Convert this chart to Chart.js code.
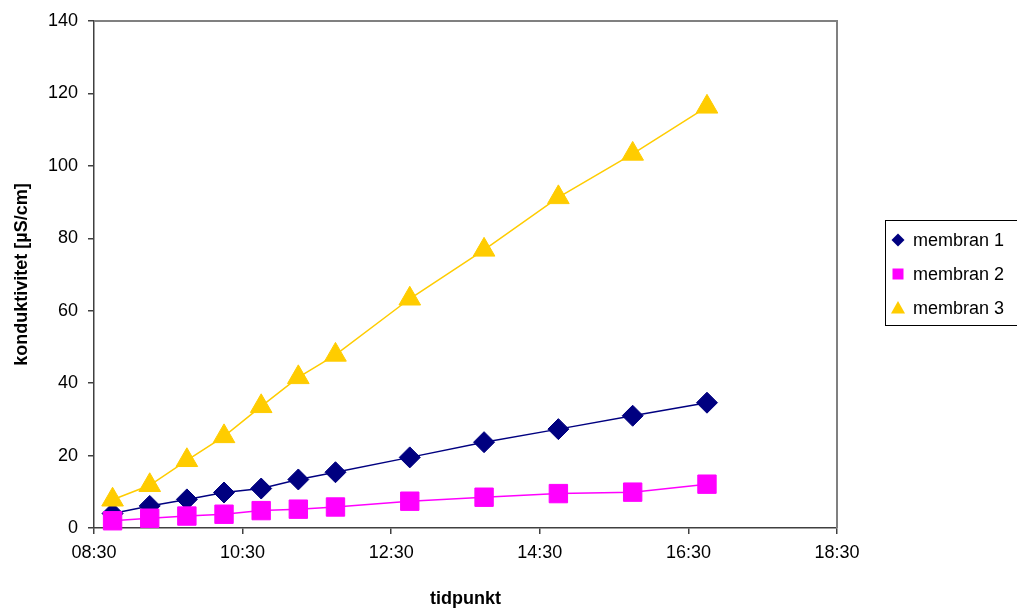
<!DOCTYPE html>
<html>
<head>
<meta charset="utf-8">
<title>konduktivitet</title>
<script src="https://cdn.jsdelivr.net/npm/chart.js@4.4.1/dist/chart.umd.min.js"></script>
<style>
  html, body { margin: 0; padding: 0; background: #fff; }
  #wrap { width: 1017px; height: 610px; position: relative; }
</style>
</head>
<body>
<div id="wrap"><canvas id="chart"></canvas></div>
<script>
// måletidspunkter
const tider = ['08:45', '09:15', '09:45', '10:15', '10:45', '11:15', '11:45',
               '12:45', '13:45', '14:45', '15:45', '16:45'];

// konduktivitet [µS/cm]
const membran1 = [4.0, 6.1, 7.9, 9.8, 10.9, 13.4, 15.4, 19.5, 23.7, 27.3, 31.0, 34.6];
const membran2 = [2.0, 2.7, 3.3, 3.8, 4.8, 5.2, 5.8, 7.4, 8.5, 9.5, 9.9, 12.1];
const membran3 = [7.8, 11.8, 18.7, 25.3, 33.6, 41.6, 47.8, 63.3, 76.8, 91.3, 103.3, 116.3];

const serieNavn = ['membran 1', 'membran 2', 'membran 3'];

// akser
const xStart = '08:30';
const xSlutt = '18:30';
const xSteg = 120; // minutter
const yMin = 0;
const yMax = 140;
const ySteg = 20;

const FONT = "'Liberation Sans', Arial, sans-serif";

function tilMinutter(t) {
    const [h, m] = t.split(':').map(Number);
    return h * 60 + m;
}

function tilKlokke(v) {
    const h = Math.floor(v / 60);
    const m = v % 60;
    return String(h).padStart(2, '0') + ':' + String(m).padStart(2, '0');
}

function punkter(verdier) {
    return verdier.map((v, i) => ({ x: tilMinutter(tider[i]), y: v }));
}

// grå ramme øverst og til høyre
const plotRamme = {
    id: 'plotRamme',
    beforeDatasetsDraw(chart) {
        const { ctx, chartArea: a } = chart;
        ctx.save();
        ctx.strokeStyle = '#808080';
        ctx.lineWidth = 2;
        ctx.beginPath();
        ctx.moveTo(a.left, a.top);
        ctx.lineTo(a.right, a.top);
        ctx.lineTo(a.right, a.bottom);
        ctx.stroke();
        ctx.restore();
    }
};

function tegnMarkor(ctx, stil, x, y, r, farge) {
    ctx.fillStyle = farge;
    ctx.beginPath();
    if (stil === 'rectRot') {
        ctx.moveTo(x - r, y);
        ctx.lineTo(x, y - r);
        ctx.lineTo(x + r, y);
        ctx.lineTo(x, y + r);
    } else if (stil === 'rect') {
        ctx.rect(x - r, y - r, 2 * r, 2 * r);
    } else {
        ctx.moveTo(x, y - r);
        ctx.lineTo(x + r, y + r * 0.8);
        ctx.lineTo(x - r, y + r * 0.8);
    }
    ctx.closePath();
    ctx.fill();
}

// forklaring med ramme, slik som i Excel
const forklaring = {
    id: 'forklaring',
    afterDraw(chart) {
        const { ctx } = chart;
        const boks = { x: 885.5, y: 220.5, w: 140, h: 105 };
        ctx.save();
        ctx.strokeStyle = '#000';
        ctx.lineWidth = 1;
        ctx.strokeRect(boks.x, boks.y, boks.w, boks.h);
        const storrelse = [6.5, 5.5, 7];
        chart.data.datasets.forEach((ds, i) => {
            const y = 240 + i * 34;
            tegnMarkor(ctx, ds.pointStyle, 898, y, storrelse[i], ds.backgroundColor);
            ctx.fillStyle = '#000';
            ctx.font = '18px ' + FONT;
            ctx.textBaseline = 'middle';
            ctx.textAlign = 'left';
            ctx.fillText(ds.label, 913, y + 1);
        });
        ctx.restore();
    }
};

const ctx = document.getElementById('chart').getContext('2d');

new Chart(ctx, {
    type: 'line',
    data: {
        datasets: [
            {
                label: serieNavn[0],
                data: punkter(membran1),
                borderColor: '#000080',
                backgroundColor: '#000080',
                pointStyle: 'rectRot',
                pointRadius: 10.5,
                order: 3
            },
            {
                label: serieNavn[1],
                data: punkter(membran2),
                borderColor: '#FF00FF',
                backgroundColor: '#FF00FF',
                pointStyle: 'rect',
                pointRadius: 13,
                order: 2
            },
            {
                label: serieNavn[2],
                data: punkter(membran3),
                borderColor: '#FFCC00',
                backgroundColor: '#FFCC00',
                pointStyle: 'triangle',
                pointRadius: 12.5,
                order: 1
            }
        ]
    },
    options: {
        responsive: true,
        maintainAspectRatio: false,
        animation: false,
        clip: false,
        datasets: {
            line: {
                borderWidth: 1.5,
                pointBorderWidth: 1,
                tension: 0,
                fill: false
            }
        },
        layout: {
            padding: { left: 0, top: 21, right: 180, bottom: 0 }
        },
        scales: {
            x: {
                type: 'linear',
                min: tilMinutter(xStart),
                max: tilMinutter(xSlutt),
                afterFit: (s) => { s.height = 82; },
                ticks: {
                    stepSize: xSteg,
                    color: '#000',
                    padding: 8,
                    maxRotation: 0,
                    font: { family: FONT, size: 18 },
                    callback: (v) => tilKlokke(v)
                },
                grid: {
                    drawOnChartArea: false,
                    drawTicks: true,
                    tickLength: 6,
                    tickColor: '#404040',
                    lineWidth: 1.5
                },
                border: { display: true, color: '#404040', width: 1.5 },
                title: {
                    display: true,
                    text: 'tidpunkt',
                    color: '#000',
                    padding: { top: 0, bottom: 0 },
                    font: { family: FONT, size: 18, weight: 'bold' }
                }
            },
            y: {
                min: yMin,
                max: yMax,
                afterFit: (s) => { s.width = 94; },
                ticks: {
                    stepSize: ySteg,
                    color: '#000',
                    padding: 10,
                    font: { family: FONT, size: 18 }
                },
                grid: {
                    drawOnChartArea: false,
                    drawTicks: true,
                    tickLength: 6,
                    tickColor: '#404040',
                    lineWidth: 1.5
                },
                border: { display: true, color: '#404040', width: 1.5 },
                title: {
                    display: true,
                    text: 'konduktivitet [µS/cm]',
                    color: '#000',
                    padding: { top: 11, bottom: 0 },
                    font: { family: FONT, size: 18, weight: 'bold' }
                }
            }
        },
        plugins: {
            legend: { display: false },
            tooltip: { enabled: false }
        }
    },
    plugins: [plotRamme, forklaring]
});
</script>
</body>
</html>
